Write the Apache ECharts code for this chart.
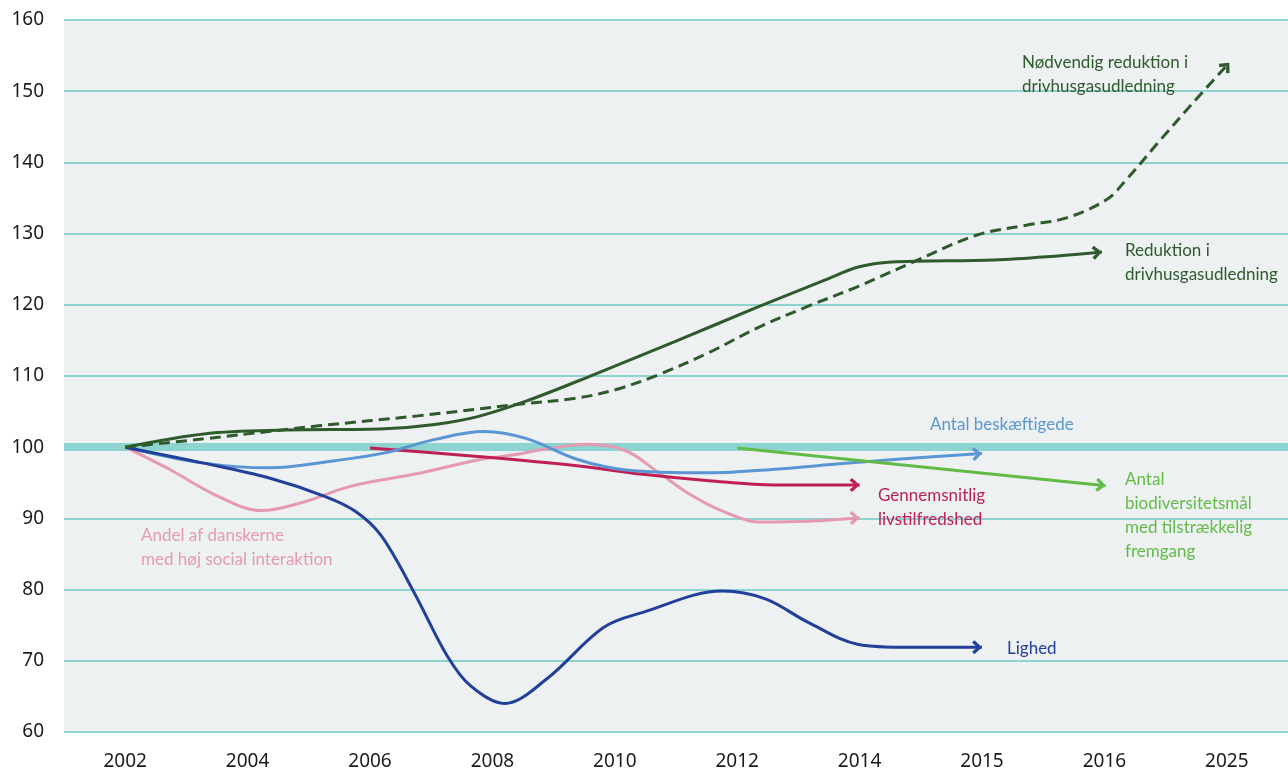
<!DOCTYPE html>
<html>
<head>
<meta charset="utf-8">
<script src="https://cdn.jsdelivr.net/npm/echarts@6/dist/echarts.min.js"></script>
<style>
  html, body { margin: 0; padding: 0; background: #fff; }
  #chart { width: 1288px; height: 771px; }
</style>
</head>
<body>
<div id="chart"></div>
<script>
// x in data = index of the year category (fractional between labels)
var years = ["2002", "2004", "2006", "2008", "2010", "2012", "2014", "2015", "2016", "2025"];

var reduktion = [[0, 100], [0.66, 101.9], [1.31, 102.4], [2.12, 102.6], [2.53, 103.2], [2.88, 104.3], [3.28, 106.5], [3.83, 110.2], [4.5, 114.9], [5.17, 119.7], [5.72, 123.5], [5.99, 125.3], [6.26, 126.0], [7.1, 126.3], [7.64, 126.9], [7.98, 127.4]];
var noedvendig = [[0, 100], [0.76, 101.4], [1.58, 103.0], [2.39, 104.4], [3.2, 106.0], [3.69, 106.9], [4.01, 108.1], [4.36, 110.2], [4.77, 113.3], [5.17, 116.8], [5.58, 119.8], [5.99, 122.6], [6.45, 126.1], [6.96, 129.8], [7.37, 131.2], [7.69, 132.2], [8.02, 134.8], [8.18, 137.6], [8.46, 143.2], [8.72, 148.3], [9.02, 154.0]];
var beskaeftigede = [[0, 100], [0.63, 97.8], [1.17, 97.1], [1.71, 98.1], [2.12, 99.2], [2.53, 101.1], [2.93, 102.2], [3.28, 101.2], [3.69, 98.3], [4.09, 96.8], [4.77, 96.4], [5.31, 96.9], [5.86, 97.7], [6.39, 98.4], [7.0, 99.1]];
var socialInteraktion = [[0, 100], [0.36, 96.9], [0.76, 93.1], [1.11, 91.1], [1.44, 92.2], [1.84, 94.5], [2.39, 96.3], [2.88, 98.2], [3.2, 99.0], [3.42, 99.7], [3.77, 100.4], [4.09, 99.5], [4.36, 96.4], [4.64, 93.1], [4.91, 90.8], [5.17, 89.5], [5.58, 89.6], [6.0, 90.1]];
var livstilfredshed = [[2.0, 99.9], [2.88, 98.7], [3.69, 97.4], [4.23, 96.2], [4.77, 95.3], [5.31, 94.7], [6.0, 94.7]];
var lighed = [[0, 100], [0.63, 97.8], [1.17, 95.7], [1.63, 93.1], [1.88, 91.0], [2.09, 87.6], [2.36, 79.6], [2.63, 70.7], [2.82, 66.5], [3.1, 64.0], [3.44, 67.4], [3.91, 74.7], [4.23, 76.8], [4.88, 79.8], [5.23, 78.7], [5.58, 75.4], [5.99, 72.3], [6.39, 71.9], [7.0, 71.9]];
var biodiversitet = [[5.0, 99.9], [8.01, 94.6]];

// open chevron, tip sits in the middle of the bounding box
var ARROW = "path://M2.4,0 L10,6.5 L2.4,13 L0,10.7 L5.4,6.5 L0,2.3 Z M20,6.5 L20,6.5 Z";

function withArrow(points, rot) {
  return points.map(function (p, i) {
    if (i === points.length - 1) {
      return { value: p, symbol: ARROW, symbolSize: [20, 14], symbolRotate: rot };
    }
    return p;
  });
}

function lineSeries(name, points, color, rot, dashed) {
  return {
    name: name,
    type: "line",
    xAxisIndex: 1,
    smooth: 0.35,
    symbol: "none",
    z: 3,
    data: withArrow(points, rot),
    itemStyle: { color: color, borderWidth: 0 },
    lineStyle: { color: color, width: 3, type: dashed ? [11, 6] : "solid" },
    silent: true
  };
}

var chartDom = document.getElementById("chart");
var myChart = echarts.init(chartDom);
var labelFont = "17px Lato";
var option;

option = {
  animation: false,
  grid: {
    left: 64,
    top: 20,
    width: 1231,
    height: 713,
    show: true,
    backgroundColor: "#edf1f2",
    borderWidth: 0
  },
  xAxis: [
    {
      type: "category",
      data: years,
      boundaryGap: true,
      axisLine: { show: false },
      axisTick: { show: false },
      splitLine: { show: false },
      axisLabel: { color: "#1b1b1b", fontSize: 19, fontFamily: "Noto Sans", margin: 20 }
    },
    {
      type: "value",
      min: -0.5,
      max: 9.5,
      show: false
    }
  ],
  yAxis: {
    type: "value",
    min: 60,
    max: 160,
    interval: 10,
    axisLine: { show: false },
    axisTick: { show: false },
    axisLabel: { color: "#1b1b1b", fontSize: 19, fontFamily: "Noto Sans", margin: 20 },
    splitLine: { lineStyle: { color: "#8dd3d0", width: 2 } }
  },
  series: [
    {
      type: "line",
      xAxisIndex: 1,
      data: [],
      z: 1,
      markLine: {
        silent: true,
        z: 1,
        symbol: "none",
        label: { show: false },
        lineStyle: { color: "#8dd3d0", width: 8, type: "solid" },
        data: [{ yAxis: 100 }]
      }
    },
    lineSeries("Andel af danskerne med høj social interaktion", socialInteraktion, "#e69ab2", 2, false),
    lineSeries("Gennemsnitlig livstilfredshed", livstilfredshed, "#bf1f55", 0, false),
    lineSeries("Antal beskæftigede", beskaeftigede, "#5b96d4", 4, false),
    lineSeries("Antal biodiversitetsmål med tilstrækkelig fremgang", biodiversitet, "#62bb46", -6, false),
    lineSeries("Lighed", lighed, "#22409a", 0, false),
    lineSeries("Nødvendig reduktion i drivhusgasudledning", noedvendig, "#2f5a2b", 49, true),
    lineSeries("Reduktion i drivhusgasudledning", reduktion, "#2f5a2b", 5, false)
  ],
  graphic: [
    { type: "text", left: 1022, top: 51, z: 10, style: { text: "Nødvendig reduktion i\ndrivhusgasudledning", fill: "#2f5a2b", font: labelFont, lineHeight: 24 } },
    { type: "text", left: 1125, top: 239, z: 10, style: { text: "Reduktion i\ndrivhusgasudledning", fill: "#2f5a2b", font: labelFont, lineHeight: 24 } },
    { type: "text", left: 930, top: 413, z: 10, style: { text: "Antal beskæftigede", fill: "#5b96d4", font: labelFont, lineHeight: 24 } },
    { type: "text", left: 878, top: 484, z: 10, style: { text: "Gennemsnitlig\nlivstilfredshed", fill: "#bf1f55", font: labelFont, lineHeight: 24 } },
    { type: "text", left: 1125, top: 468, z: 10, style: { text: "Antal\nbiodiversitetsmål\nmed tilstrækkelig\nfremgang", fill: "#62bb46", font: labelFont, lineHeight: 24 } },
    { type: "text", left: 141, top: 524, z: 10, style: { text: "Andel af danskerne\nmed høj social interaktion", fill: "#e69ab2", font: labelFont, lineHeight: 24 } },
    { type: "text", left: 1007, top: 637, z: 10, style: { text: "Lighed", fill: "#22409a", font: labelFont, lineHeight: 24 } }
  ]
};

option && myChart.setOption(option);
</script>
</body>
</html>
